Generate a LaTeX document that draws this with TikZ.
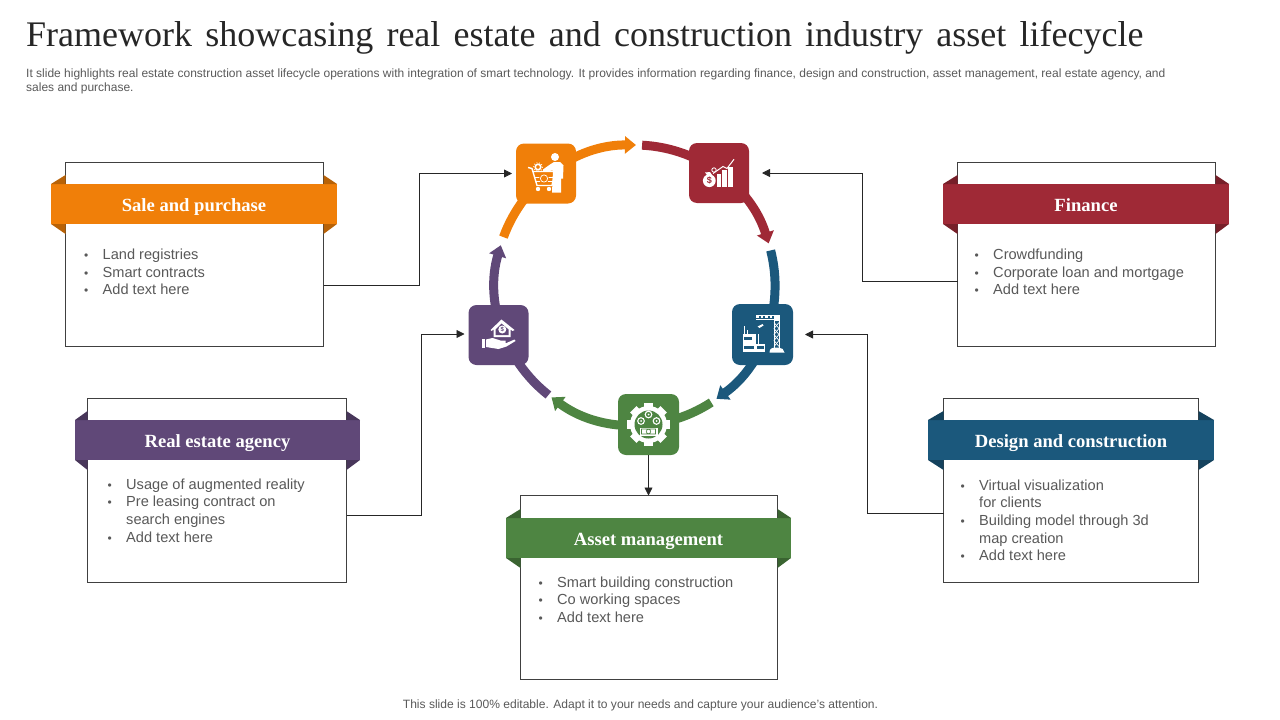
\documentclass[tikz,border=0pt]{standalone}
\usepackage{fontspec}
\setmainfont{Liberation Sans}
\newfontfamily\serf{Liberation Serif}
\usepackage{xcolor}
\usetikzlibrary{arrows.meta,positioning,calc}

\definecolor{clrSale}{HTML}{F07F09}
\definecolor{clrFin}{HTML}{9F2936}
\definecolor{clrDes}{HTML}{1B587C}
\definecolor{clrAst}{HTML}{4E8542}
\definecolor{clrEst}{HTML}{604878}
\definecolor{drkSale}{HTML}{B86207}
\definecolor{drkFin}{HTML}{771F29}
\definecolor{drkDes}{HTML}{14425D}
\definecolor{drkAst}{HTML}{3A6431}
\definecolor{drkEst}{HTML}{48365A}
\definecolor{txtGray}{HTML}{595959}

% bullet lines of the boxes
\newcommand{\itm}[1]{\makebox[18.5pt][l]{\fontsize{12}{12}\selectfont\textbullet}#1}
\newcommand{\cnt}[1]{\makebox[18.5pt][l]{}#1}
% folded corners behind a banner
\newcommand{\bnfold}[3]{%
  \fill[#3] (#1.north west) -- ($(#1.north west -| #2.west)+(0,-9)$) -- (#1.north west -| #2.west) -- cycle;
  \fill[#3] (#1.south west) -- ($(#1.south west -| #2.west)+(0,10)$) -- (#1.south west -| #2.west) -- cycle;
  \fill[#3] (#1.north east) -- ($(#1.north east -| #2.east)+(0,-9)$) -- (#1.north east -| #2.east) -- cycle;
  \fill[#3] (#1.south east) -- ($(#1.south east -| #2.east)+(0,10)$) -- (#1.south east -| #2.east) -- cycle;}

\tikzset{
  icCart/.pic={
    \fill[white] (9,-16.5) circle (4);
    \fill[white] (4,-9) -- (8,-11.5) -- (14,-11.5) -- (17.5,-8) -- (17,5) -- (15,5) -- (15,19) -- (6,19) -- (7,-3) -- (-3,-2) -- (-3,-4) -- cycle;
    \draw[white,line width=1.4pt,line join=round] (-18,-6) -- (-14,-5) -- (-9,12) -- (6,12) -- (9,-2) -- (-13,-2);
    \draw[white,line width=1pt] (-11,3.5) -- (7,3.5) (-10,8) -- (6,8);
    \fill[clrSale] (-2,5) circle (5);
    \draw[white,line width=.7pt] (-2,5) circle (3.6);
    \fill[white] (-8,15.5) circle (2.2) (3,15.5) circle (2.2);
    \draw[white,line width=1.6pt] (-8,-6.5) circle (2.8);
    \draw[white,line width=.8pt,dotted] (-8,-6.5) circle (4.6);
  },
  icBars/.pic={
    \fill[white] (-2.3,.5) rectangle (1.7,13.7);
    \fill[white] (3.3,-3) rectangle (7.7,13.7);
    \fill[white] (9.3,-6.3) rectangle (14.3,13.7);
    \draw[white,line width=1pt] (-6,.5) -- (4,-6.5) -- (8,-4.5) -- (15,-13.7);
    \draw[white,line width=.8pt] (-5,-3) circle (2.2);
    \fill[white] (-9.7,7.7) circle (6.4);
    \fill[white] (-14,-.5) -- (-9,-1) -- (-7,2) -- (-12,2) -- cycle;
    \node[font=\fontsize{9}{9}\selectfont\bfseries,text=clrFin,inner sep=0pt] (icBarsTx) at (-9.7,7.7) {\$};
  },
  icCrane/.pic={
    \draw[white,line width=.9pt] (11.5,-19) -- (11.5,15) (16.5,-19) -- (16.5,15);
    \draw[white,line width=.7pt] (11.5,-12) -- (16.5,-6) -- (11.5,0) -- (16.5,6) -- (11.5,12);
    \draw[white,line width=.7pt] (16.5,-12) -- (11.5,-6) -- (16.5,0) -- (11.5,6) -- (16.5,12);
    \fill[white] (11,-19.5) rectangle (17,-14);
    \draw[white,line width=2.6pt,dotted] (-6.5,-17.5) -- (11,-17.5);
    \draw[white,line width=.7pt] (-6.5,-19) -- (11,-19) (-6.5,-15.5) -- (11,-15.5);
    \fill[white] (-5,-8) -- (0,-10.5) -- (1,-9) -- (-3,-6.5) -- cycle;
    \fill[white] (7,18) .. controls (7,14) and (10,13) .. (12,13) -- (16,13) .. controls (19,13) and (22,15) .. (22,18) -- cycle;
    \fill[white] (-20,-1) rectangle (-6.5,17);
    \fill[white] (-6.5,9) rectangle (2.5,17);
    \fill[clrDes] (-18.5,2) rectangle (-10.5,5.5);
    \fill[clrDes] (-18.5,11) rectangle (-9,14);
    \fill[clrDes] (-6,11) rectangle (1.8,14);
    \draw[white,line width=.8pt] (-18,-1) -- (-18,-9) (-15,-1) -- (-15,-5) (-4.5,9) -- (-4.5,-1);
  },
  icGear/.pic={
    \foreach \ang in {0,45,...,315}
      \draw[white,line width=9pt] (0,0) -- ++(\ang:21.5pt);
    \fill[white] (0,0) circle (18.5);
    \fill[clrAst] (0,0) circle (14);
    \draw[white,line width=1.1pt] (0,-10) circle (3.3) (-7.5,-3.5) circle (3.3) (8,-3.5) circle (3.3);
    \fill[white] (0,-10) circle (1) (-7.5,-3.5) circle (1) (8,-3.5) circle (1);
    \fill[white] (-9,3) rectangle (9,11);
    \draw[clrAst,line width=.6pt] (0,7) circle (2.2) (-7,4.5) rectangle (7,9.5);
  },
  icHand/.pic={
    \fill[white] (3,-15.5) -- (16,-5) -- (14,-4) -- (12,-5.5) -- (12,2) -- (-5,2) -- (-5,-5.5) -- (-7,-4) -- (-8,-5) -- cycle;
    \fill[clrEst] (-3,-5.5) -- (3,-11.5) -- (10,-5.5) -- (10,0) -- (-3,0) -- cycle;
    \fill[white] (3.8,-5.5) circle (4);
    \node[font=\fontsize{6}{6}\selectfont\bfseries,text=clrEst,inner sep=0pt] (icHandTx) at (3.8,-5.5) {\$};
    \fill[white] (-17,3.5) rectangle (-13.5,13);
    \fill[white] (-12.5,4.5) -- (-6,3) -- (2,5.5) -- (7,5.5) -- (7,8) -- (1,8) -- (8,8) -- (16,4.5) -- (17,6) -- (8,11.5) -- (0,14) -- (-12.5,12) -- cycle;
  }
}

\begin{document}
\begin{tikzpicture}[x=1pt,y=-1pt,
  bxs/.style={draw=black!75,line width=.8pt,fill=white,inner sep=0pt,outer sep=0pt,minimum height=184pt},
  bnr/.style={inner sep=0pt,outer sep=0pt,minimum width=286pt,minimum height=40pt,text=white,
    text height=16pt,text depth=2pt,font=\serf\bfseries\fontsize{18.6}{20}\selectfont},
  ico/.style={rounded corners=8pt,minimum width=60pt,minimum height=60pt,inner sep=0pt,outer sep=0pt},
  txt/.style={inner sep=0pt,align=left,text=txtGray,font=\fontsize{14.6}{17.6}\selectfont},
  cyc/.style={line width=9pt,-{Triangle[length=11pt,width=17pt]}},
  arr/.style={-{Triangle[length=8pt,width=8pt]},line width=.8pt,draw=black!85},
  >=Stealth]
\useasboundingbox (0,0) rectangle (1280,720);

\node[anchor=base west,inner sep=0pt,font=\serf\fontsize{36}{40}\selectfont,text=black!85] (ttl) at (26,46)
  {\spaceskip=13.2pt\relax Framework showcasing real estate and construction industry asset lifecycle};
\node[anchor=north west,inner sep=0pt,text=txtGray,align=left,font=\fontsize{12}{14.5}\selectfont] (dsc) at (26,68.5)
  {It slide highlights real estate construction asset lifecycle operations with integration of smart technology. It provides information regarding finance, design and construction, asset management, real estate agency, and\\sales and purchase.};
\node[text=txtGray,inner sep=0pt,font=\fontsize{12.05}{14}\selectfont] (ftr) at (640.5,705.5)
  {This slide is 100\% editable. Adapt it to your needs and capture your audience's attention.};

% ring
\coordinate (cen) at (635,285);
\draw[cyc,draw=clrSale] ($(cen)+(160:140pt)$) arc[start angle=160,end angle=89.6,radius=140pt];
\draw[cyc,draw=clrFin] ($(cen)+(87.1:140pt)$) arc[start angle=87.1,end angle=17.3,radius=140pt];
\draw[cyc,draw=clrDes] ($(cen)+(14.3:140pt)$) arc[start angle=14.3,end angle=-54.4,radius=140pt];
\draw[cyc,draw=clrAst] ($(cen)+(-57:140pt)$) arc[start angle=-57,end angle=-126.6,radius=140pt];
\draw[cyc,draw=clrEst] ($(cen)+(-128.2:140pt)$) arc[start angle=-128.2,end angle=-196.5,radius=140pt];

\node[ico,fill=clrSale] (icoSale) at (546,173.5) {};
\node[ico,fill=clrFin] (icoFin) at (719,173) {};
\node[ico,fill=clrDes,minimum width=61pt,minimum height=61pt] (icoDes) at (762.5,334.5) {};
\node[ico,fill=clrAst,minimum width=61pt,minimum height=61pt] (icoAst) at (648.5,424.5) {};
\node[ico,fill=clrEst] (icoEst) at (498.5,335) {};
\pic at (icoSale.center) {icCart};
\pic at (icoFin.center) {icBars};
\pic at (icoDes.center) {icCrane};
\pic at (icoAst.center) {icGear};
\pic at (icoEst.center) {icHand};

% boxes
\node[bxs,minimum width=258pt] (bxSale) at (194.5,254.5) {};
\node[bxs,minimum width=258pt] (bxFin) at (1086.5,254.5) {};
\node[bxs,minimum width=259pt] (bxEst) at (217,490.5) {};
\node[bxs,minimum width=255pt] (bxDes) at (1071,490.5) {};
\node[bxs,minimum width=257pt] (bxAst) at (649,587.5) {};

\node[bnr,fill=clrSale] (bnSale) at (194,204) {Sale and purchase};
\node[bnr,fill=clrFin] (bnFin) at (1086,204) {Finance};
\node[bnr,fill=clrEst,minimum width=285pt] (bnEst) at (217.5,440) {Real estate agency};
\node[bnr,fill=clrDes] (bnDes) at (1071,440) {Design and construction};
\node[bnr,fill=clrAst,minimum width=285pt] (bnAst) at (648.5,538) {Asset management};
\bnfold{bnSale}{bxSale}{drkSale}
\bnfold{bnFin}{bxFin}{drkFin}
\bnfold{bnEst}{bxEst}{drkEst}
\bnfold{bnDes}{bxDes}{drkDes}
\bnfold{bnAst}{bxAst}{drkAst}

\node[txt,below right=25pt and 33pt of bnSale.south west] (txSale)
  {\itm{Land registries}\\\itm{Smart contracts}\\\itm{Add text here}};
\node[txt,below right=25pt and 31.5pt of bnFin.south west] (txFin)
  {\itm{Crowdfunding}\\\itm{Corporate loan and mortgage}\\\itm{Add text here}};
\node[txt,below right=18.5pt and 32.5pt of bnEst.south west] (txEst)
  {\itm{Usage of augmented reality}\\\itm{Pre leasing contract on}\\\cnt{search engines}\\\itm{Add text here}};
\node[txt,below right=19.5pt and 32.5pt of bnDes.south west] (txDes)
  {\itm{Virtual visualization}\\\cnt{for clients}\\\itm{Building model through 3d}\\\cnt{map creation}\\\itm{Add text here}};
\node[txt,below right=18.5pt and 32.5pt of bnAst.south west] (txAst)
  {\itm{Smart building construction}\\\itm{Co working spaces}\\\itm{Add text here}};

% links
\draw[arr] ($(bxSale.east)+(0,30.5)$) -- ++(96,0) |- ($(icoSale.west)+(-4,0)$);
\draw[arr] ($(bxFin.west)+(0,26.5)$) -- ++(-95.5,0) |- ($(icoFin.east)+(13,0)$);
\draw[arr] ($(bxEst.east)+(0,24.5)$) -- ++(74.5,0) |- ($(icoEst.west)+(-4,-1)$);
\draw[arr] ($(bxDes.west)+(0,22.5)$) -- ++(-76.5,0) |- ($(icoDes.east)+(12,0)$);
\draw[arr] (icoAst.south) -- (bxAst.north -| icoAst.south);
\end{tikzpicture}
\end{document}
